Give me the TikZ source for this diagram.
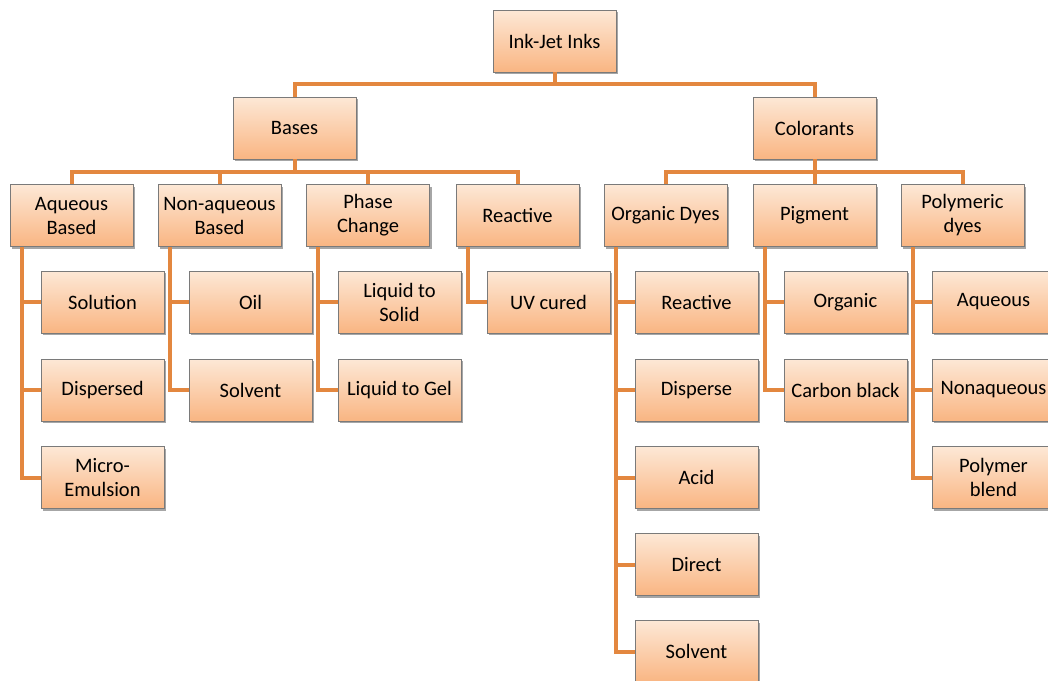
\documentclass[tikz,border=0pt]{standalone}
\usepackage{fontspec}
\setmainfont{Carlito}
\usetikzlibrary{shadows,calc}
\definecolor{boxtop}{HTML}{FDE8D6}
\definecolor{boxbot}{HTML}{F9B582}
\definecolor{boxline}{HTML}{7A7A7A}
\definecolor{conncol}{HTML}{E3873F}
\tikzset{
  bx/.style={draw=boxline, line width=0.9pt, top color=boxtop, bottom color=boxbot,
    minimum width=123pt, minimum height=62pt, inner sep=0pt, align=center,
    font=\fontsize{20.5}{24}\selectfont,
    drop shadow={shadow xshift=2pt, shadow yshift=-2pt, opacity=0.35, fill=black}},
  conn/.style={draw=conncol, line width=4pt}
}
\begin{document}
\begin{tikzpicture}[x=1pt,y=-1pt]
\useasboundingbox (0,0) rectangle (1048,680);
\clip (0,0) rectangle (1048,680);
\coordinate (h0) at (554.5,84);
\coordinate (hb) at (294.5,172);
\coordinate (hc) at (814.5,172);
\path
 (554.5,41) coordinate (ink)
 (294.5,128) coordinate (bases)
 (814.5,128) coordinate (col);
\foreach \n/\x in {aq/71.5,na/219.5,pc/368,re/517.5,od/665.5,pg/814.5,pd/962.5}{
  \coordinate (\n) at (\x,215.5);
}
% ---------- nodes ----------
\node[bx] (nink) at (ink) {Ink-Jet Inks};
\node[bx] (nbases) at (bases) {Bases};
\node[bx] (ncol) at (col) {Colorants};
\node[bx] (naq) at (aq) {Aqueous\\Based};
\node[bx] (nna) at (na) {Non-aqueous\\Based};
\node[bx] (npc) at (pc) {Phase\\Change};
\node[bx] (nre) at (re) {Reactive};
\node[bx] (nod) at (od) {Organic Dyes};
\node[bx] (npg) at (pg) {Pigment};
\node[bx] (npd) at (pd) {Polymeric\\dyes};
\node[bx] (c1) at (102.5,302) {Solution};
\node[bx] (c2) at (102.5,390) {Dispersed};
\node[bx] (c3) at (102.5,477.5) {Micro-\\Emulsion};
\node[bx] (c4) at (250.5,302) {Oil};
\node[bx] (c5) at (250.5,390) {Solvent};
\node[bx] (c6) at (399.5,302) {Liquid to\\Solid};
\node[bx] (c7) at (399.5,390) {Liquid to Gel};
\node[bx] (c8) at (548.5,302) {UV cured};
\node[bx] (c9) at (696.5,302) {Reactive};
\node[bx] (c10) at (696.5,390) {Disperse};
\node[bx] (c11) at (696.5,477.5) {Acid};
\node[bx] (c12) at (696.5,564.5) {Direct};
\node[bx] (c13) at (696.5,651.5) {Solvent};
\node[bx] (c14) at (845.5,302) {Organic};
\node[bx] (c15) at (845.5,390) {Carbon black};
\node[bx] (c16) at (993.5,302) {Aqueous};
\node[bx] (c17) at (993.5,390) {Nonaqueous};
\node[bx] (c18) at (993.5,477.5) {Polymer\\blend};
% ---------- connectors ----------
\draw[conn] (nink.south) -- (h0) -| (nbases.north);
\draw[conn] (h0) -| (ncol.north);
\foreach \c in {naq,nna,npc,nre}{
  \draw[conn] (nbases.south) -- (hb) -| (\c.north);
}
\foreach \c in {nod,npg,npd}{
  \draw[conn] (ncol.south) -- (hc) -| (\c.north);
}
\foreach \p/\c in {naq/c1,naq/c2,naq/c3,nna/c4,nna/c5,npc/c6,npc/c7,nre/c8,
  nod/c9,nod/c10,nod/c11,nod/c12,nod/c13,npg/c14,npg/c15,npd/c16,npd/c17,npd/c18}{
  \draw[conn] ([xshift=12pt]\p.south west) |- (\c.west);
}
\end{tikzpicture}
\end{document}
